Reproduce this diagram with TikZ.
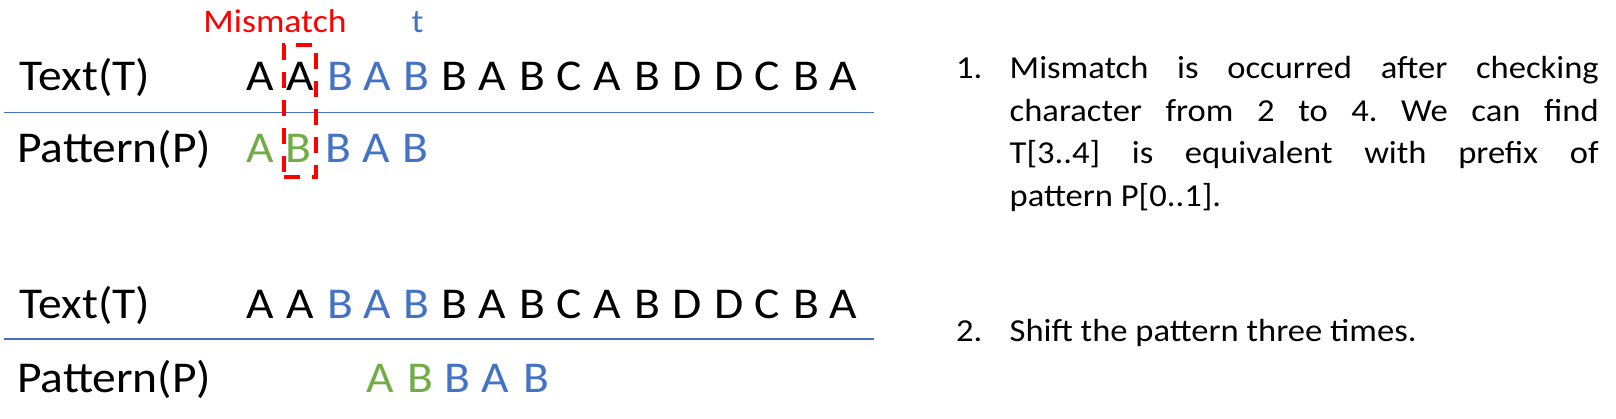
\documentclass[tikz,border=0pt]{standalone}
\usepackage{fontspec}
\setmainfont{Carlito}[FakeStretch=1.08]
\frenchspacing
\definecolor{pblue}{HTML}{4472C4}
\definecolor{pgreen}{HTML}{70AD47}
\definecolor{pred}{HTML}{FF0000}
\begin{document}
\begin{tikzpicture}[x=1pt,y=-1pt,
  big/.style={inner sep=0pt, font=\fontsize{44}{50}\selectfont},
  lbl/.style={big, anchor=base west},
  ch/.style={big, anchor=base},
  small/.style={inner sep=0pt, font=\fontsize{33}{40}\selectfont, anchor=base},
  rule/.style={draw=pblue, line width=1.2pt},
  body/.style={inner sep=0pt, font=\fontsize{32}{42.8}\selectfont, anchor=base west},
  mbox/.style={draw=pred, line width=4pt, dash pattern=on 16pt off 12pt, inner sep=0pt, minimum width=32pt, minimum height=132.3pt}]
\useasboundingbox (0,0) rectangle (1616,418);
% labels above
\node[small, text=pred] (mis) at (275,32.3) {Mismatch};
\node[small, text=pblue] (tl) at (417.5,32.3) {t};
% row labels
\node[lbl] (txt1) at (19.5,90.7) {Text(T)};
\node[lbl] (pat1) at (17,162.7) {Pattern(P)};
\node[lbl] (txt2) at (19.5,318) {Text(T)};
\node[lbl] (pat2) at (17,392) {Pattern(P)};
% text rows
\foreach \x/\c/\col [count=\i] in {260/A/black,300/A/black,340/B/pblue,377/A/pblue,416.5/B/pblue,454/B/black,492.5/A/black,532.5/B/black,569/C/black,607.5/A/black,647.5/B/black,687.5/D/black,729.5/D/black,767.5/C/black,806.5/B/black,843.5/A/black}{
  \node[ch, text=\col] (ta\i) at (\x,90.7) {\c};
  \node[ch, text=\col] (tb\i) at (\x,318) {\c};
}
% pattern rows
\foreach \x/\c/\col [count=\i] in {260/A/pgreen,298.5/B/pgreen,338/B/pblue,376/A/pblue,415/B/pblue}{
  \node[ch, text=\col] (pa\i) at (\x,162.7) {\c};
}
\foreach \x/\c/\col [count=\i] in {380.5/A/pgreen,420/B/pgreen,457.5/B/pblue,495.5/A/pblue,536/B/pblue}{
  \node[ch, text=\col] (pb\i) at (\x,392) {\c};
}
% separator lines
\coordinate (l1a) at (4,112.3);
\coordinate (l1b) at (874,112.3);
\coordinate (l2a) at (4,339);
\coordinate (l2b) at (874,339);
\draw[rule] (l1a) -- (l1b);
\draw[rule] (l2a) -- (l2b);
% mismatch box
\node[mbox] (mm) at (299.5,110.85) {};
% explanation
\node[body] (n1) at (956,78.3) {1.};
\node[body, text width=589pt, align=justify] (p1) at (1009.5,78.3) {\baselineskip=42.8pt Mismatch is occurred after checking\linebreak character from 2 to 4. We can find\linebreak T[3..4] is equivalent with prefix of\linebreak pattern P[0..1].\par};
\node[body] (n2) at (956,341.7) {2.};
\node[body] (p2) at (1009.5,341.7) {Shift the pattern three times.};
\end{tikzpicture}
\end{document}
